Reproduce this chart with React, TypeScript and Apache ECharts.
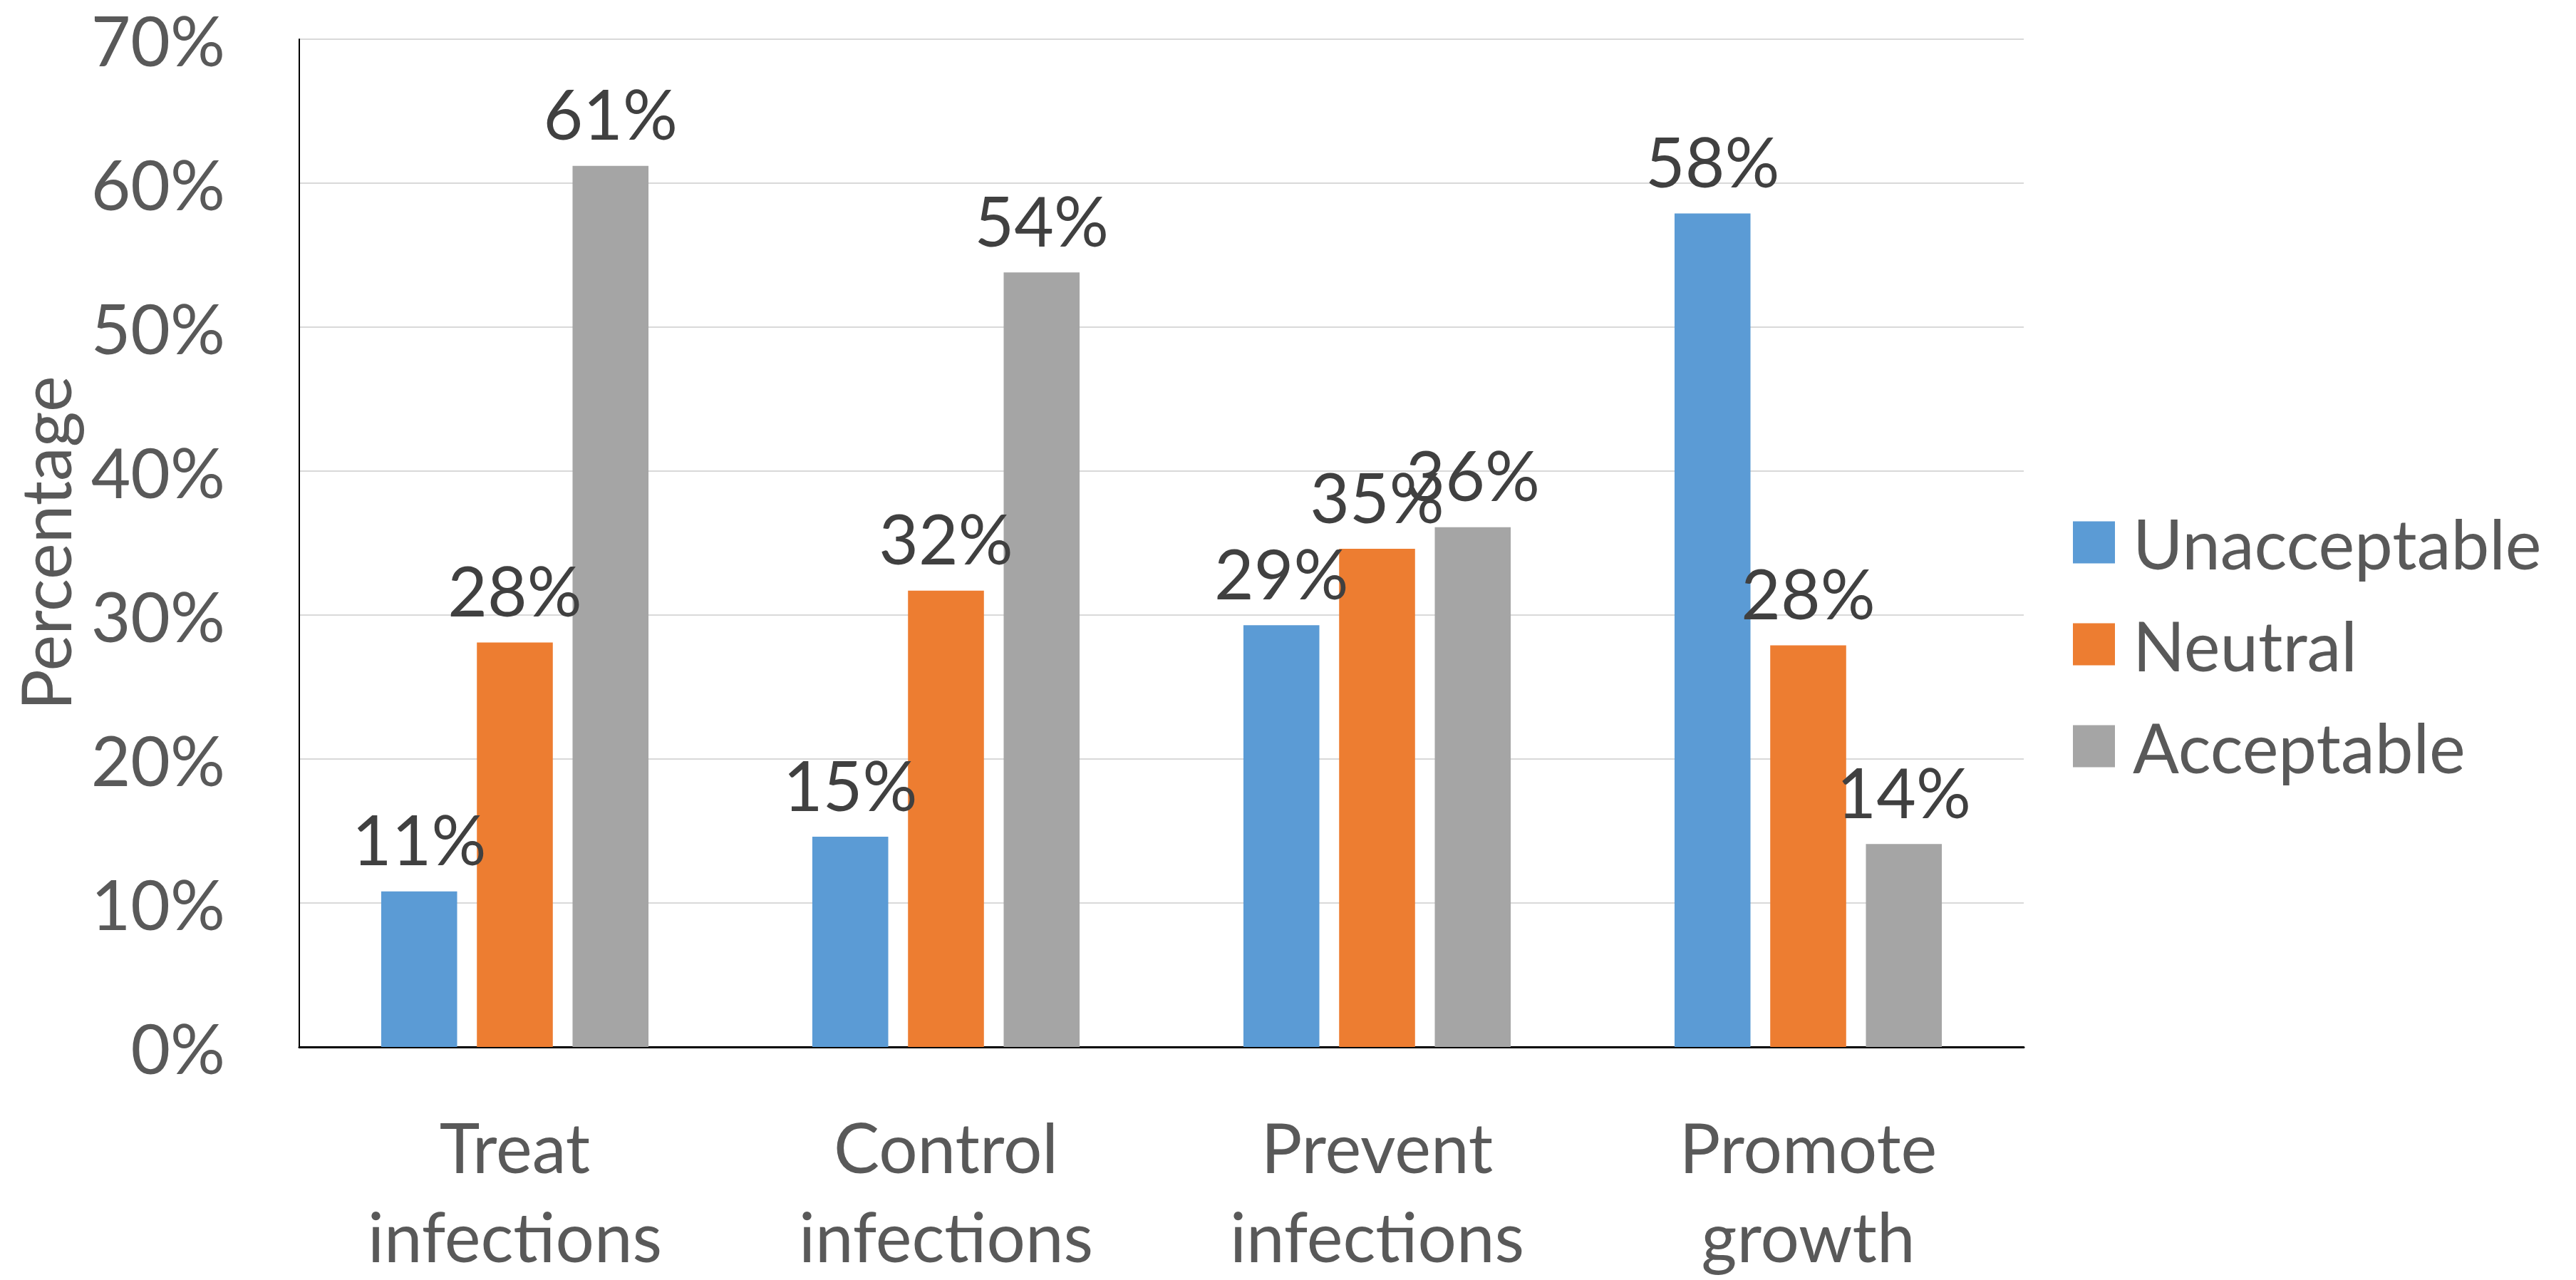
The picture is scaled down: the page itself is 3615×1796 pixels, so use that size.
import React, { useEffect, useRef } from "react";
import * as echarts from "echarts";

// Survey: how acceptable is antibiotic use for each purpose (percent of respondents)
const categories = ["Treat\ninfections", "Control\ninfections", "Prevent\ninfections", "Promote\ngrowth"];
const seriesNames = ["Unacceptable", "Neutral", "Acceptable"];
const unacceptable = [10.8, 14.6, 29.3, 57.9];
const neutral = [28.1, 31.7, 34.6, 27.9];
const acceptable = [61.2, 53.8, 36.1, 14.1];
const seriesColors = ["#5B9BD5", "#ED7D31", "#A5A5A5"];
const yTicks = { min: 0, max: 70, interval: 10 };

const FONT = "Lato";
const FS = 96;
// layout is designed for a 3615 x 1796 canvas and scaled to the actual viewport
const DESIGN_W = 3615;
const DESIGN_H = 1796;

export default function App() {
  const ref = useRef<HTMLDivElement>(null);

  useEffect(() => {
    if (!ref.current) return;
    document.body.style.margin = "0";
    document.body.style.overflow = "hidden";
    const W = window.innerWidth || DESIGN_W;
    const H = window.innerHeight || DESIGN_H;
    const sx = W / DESIGN_W;
    const sy = H / DESIGN_H;
    ref.current.style.width = `${W}px`;
    ref.current.style.height = `${H}px`;
    const chart = echarts.init(ref.current, undefined, { renderer: "svg", width: W, height: H });
    const values = [unacceptable, neutral, acceptable];

    chart.setOption({
      animation: false,
      backgroundColor: "#ffffff",
      textStyle: { fontFamily: FONT },
      grid: {
        left: 420 * sx,
        right: 775 * sx,
        top: 55 * sy,
        bottom: 313 * sy,
        containLabel: false,
      },
      legend: {
        orient: "vertical",
        left: 2904 * sx,
        top: 708 * sy,
        itemWidth: 59,
        itemHeight: 59,
        itemGap: 47 * sy,
        icon: "rect",
        data: seriesNames,
        textStyle: {
          fontFamily: FONT,
          fontSize: FS,
          color: "#595959",
          padding: [0, 0, 0, 20],
        },
      },
      xAxis: {
        type: "category",
        data: categories,
        axisTick: { show: false },
        axisLine: { lineStyle: { color: "#000000", width: 3 } },
        axisLabel: {
          fontFamily: FONT,
          fontSize: FS,
          color: "#595959",
          lineHeight: 125 * sy,
          margin: 77 * sy,
          interval: 0,
        },
      },
      yAxis: {
        type: "value",
        min: yTicks.min,
        max: yTicks.max,
        interval: yTicks.interval,
        name: "Percentage",
        nameLocation: "middle",
        nameGap: 310 * sx,
        nameTextStyle: { fontFamily: FONT, fontSize: FS, color: "#595959" },
        axisLine: { show: true, lineStyle: { color: "#000000", width: 2 } },
        axisTick: { show: false },
        axisLabel: {
          fontFamily: FONT,
          fontSize: FS,
          color: "#595959",
          margin: 104 * sx,
          formatter: "{value}%",
        },
        splitLine: { lineStyle: { color: "#D9D9D9", width: 2 } },
      },
      series: seriesNames.map((name, i) => ({
        name,
        type: "bar",
        data: values[i],
        barGap: "26%",
        barCategoryGap: "38%",
        itemStyle: { color: seriesColors[i] },
        label: {
          show: true,
          position: "top",
          distance: 26 * sy,
          fontFamily: FONT,
          fontSize: FS,
          color: "#404040",
          formatter: (p: any) => `${Math.round(p.value)}%`,
        },
      })),
    });

    return () => chart.dispose();
  }, []);

  return (
    <div
      ref={ref}
      style={{ position: "fixed", left: 0, top: 0, width: DESIGN_W, height: DESIGN_H }}
    />
  );
}
